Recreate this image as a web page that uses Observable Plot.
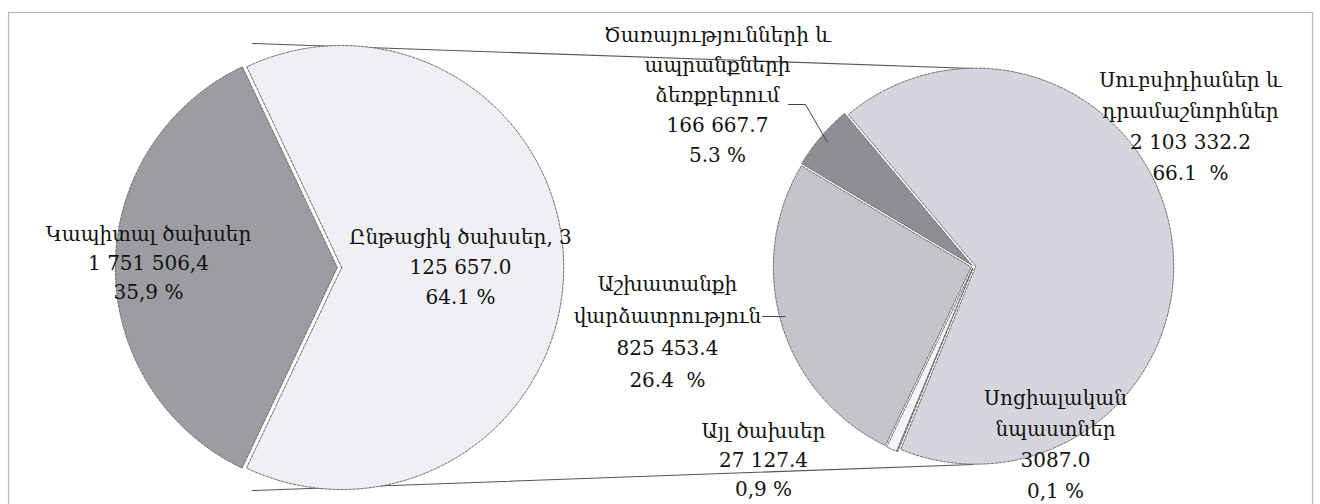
<!DOCTYPE html>
<html>
<head>
<meta charset="utf-8">
<script src="https://cdn.jsdelivr.net/npm/d3@7"></script>
<script src="https://cdn.jsdelivr.net/npm/@observablehq/plot@0.6"></script>
<style>
  html, body { margin: 0; padding: 0; background: #fff; overflow: hidden; }
  #chart { width: 1320px; height: 504px; overflow: hidden; }
</style>
</head>
<body>
<div id="chart"></div>
<script>
// ---------- DATA ----------
// Primary pie (clockwise from its start angle)
const leftCategories = ["Կապիտալ ծախսեր", "Ընթացիկ ծախսեր"];
const leftValues = [1751506.4, 3125657.0];
const leftLabelLines = [
  ["Կապիտալ ծախսեր", "1 751 506,4", "35,9 %"],
  ["Ընթացիկ ծախսեր, 3", "125 657.0", "64.1 %"]
];

// Secondary pie: breakdown of current expenditures (clockwise from its start angle)
const rightCategories = [
  "Սուբսիդիաներ և դրամաշնորհներ",
  "Սոցիալական նպաստներ",
  "Այլ ծախսեր",
  "Աշխատանքի վարձատրություն",
  "Ծառայությունների և ապրանքների ձեռքբերում"
];
const rightValues = [2103332.2, 3087.0, 27127.4, 825453.4, 166667.7];
const rightLabelLines = [
  ["Սուբսիդիաներ և", "դրամաշնորհներ", "2 103 332.2", "66.1  %"],
  ["Սոցիալական", "նպաստներ", "3087.0", "0,1 %"],
  ["Այլ ծախսեր", "27 127.4", "0,9 %"],
  ["Աշխատանքի", "վարձատրություն", "825 453.4", "26.4  %"],
  ["Ծառայությունների և", "ապրանքների", "ձեռքբերում", "166 667.7", "5.3 %"]
];

// ---------- STYLE / LAYOUT ----------
const leftColors = ["#9c9ca1", "#efeff4"];
const rightColors = ["#d6d5de", "#d0d0d8", "#f4f4f8", "#c4c4cb", "#8e8e93"];
const L = {cx: 339, cy: 267, r: 222, start: 205.4};   // degrees, clockwise from top
const R = {cx: 973, cy: 266, r: 198, start: 320};
const explode = 2.2;
const leftLabelPos = [
  {x: 148, y: 234, dy: 29},
  {x: 460, y: 237, dy: 30}
];
const rightLabelPos = [
  {x: 1190, y: 80, dy: 31},
  {x: 1055, y: 398, dy: 31},
  {x: 763, y: 431, dy: 29},
  {x: 667, y: 284, dy: 32},
  {x: 717, y: 35, dy: 30}
];

// ---------- GEOMETRY FROM DATA ----------
const rad = d => d * Math.PI / 180;
function pieArcs(values, start) {
  return d3.pie().sort(null).startAngle(rad(start)).endAngle(rad(start) + 2 * Math.PI)(values);
}
function polar(cx, cy, r, a) { return [cx + r * Math.sin(a), cy - r * Math.cos(a)]; }
function toXY(p) { return {px: p[0], py: p[1]}; }

function slicePolys(arcs, P, names, colors, key) {
  const rows = [];
  arcs.forEach((a, i) => {
    const mid = (a.startAngle + a.endAngle) / 2;
    const [ox, oy] = polar(0, 0, explode, mid);
    const cx = P.cx + ox, cy = P.cy + oy;
    const row = (x, y) => ({slice: key + i, name: names[i], color: colors[i], px: x, py: y});
    rows.push(row(cx, cy));
    const n = Math.max(2, Math.ceil((a.endAngle - a.startAngle) / rad(0.5)));
    for (let k = 0; k <= n; k++) {
      const t = a.startAngle + (a.endAngle - a.startAngle) * k / n;
      const [x, y] = polar(cx, cy, P.r, t);
      rows.push(row(x, y));
    }
    rows.push(row(cx, cy));
  });
  return rows;
}

const leftArcs = pieArcs(leftValues, L.start);
const rightArcs = pieArcs(rightValues, R.start);
const slices = [
  ...slicePolys(leftArcs, L, leftCategories, leftColors, "L"),
  ...slicePolys(rightArcs, R, rightCategories, rightColors, "R")
];

// connector lines: from the broken-out slice's edges to the top and bottom of the secondary pie
const cur = leftArcs[1];
const topTip = polar(L.cx, L.cy, L.r, cur.startAngle);
const botTip = polar(L.cx, L.cy, L.r, cur.endAngle);
const connectors = [
  {id: "top", px: topTip[0] + 8, py: L.cy - L.r - 2},
  {id: "top", ...toXY(polar(R.cx, R.cy, R.r, 0))},
  {id: "bot", px: botTip[0] + 8, py: L.cy + L.r + 1},
  {id: "bot", ...toXY(polar(R.cx, R.cy, R.r, Math.PI))}
];

// leader lines
const svcArc = rightArcs[4];
const svcPt = polar(R.cx, R.cy, R.r - 6, (svcArc.startAngle + svcArc.endAngle) / 2);
const labY = 316;
const labX = R.cx - Math.sqrt(R.r * R.r - (labY - R.cy) ** 2) + 3;
const leaders = [
  {id: "svc", px: 788, py: 104}, {id: "svc", px: 805, py: 104}, {id: "svc", ...toXY(svcPt)},
  {id: "lab", px: 762, py: labY}, {id: "lab", px: labX, py: labY}
];

// label rows
const labelRows = [];
leftLabelLines.forEach((lines, i) => lines.forEach((t, j) =>
  labelRows.push({text: t, px: leftLabelPos[i].x, py: leftLabelPos[i].y + j * leftLabelPos[i].dy})));
rightLabelLines.forEach((lines, i) => lines.forEach((t, j) =>
  labelRows.push({text: t, px: rightLabelPos[i].x, py: rightLabelPos[i].y + j * rightLabelPos[i].dy})));

const chart = Plot.plot({
  width: 1320,
  height: 512,
  marginTop: 12, marginLeft: 8, marginRight: 8, marginBottom: 0,
  x: {domain: [0, 1320], range: [0, 1320], axis: null},
  y: {domain: [0, 504], range: [0, 504], axis: null},
  color: {type: "identity"},
  style: {fontFamily: "DejaVu Serif", background: "#fff"},
  marks: [
    Plot.frame({stroke: "#b8b8b8", strokeWidth: 1.2}),
    Plot.line(connectors, {x: "px", y: "py", z: "id", stroke: "#555", strokeWidth: 1.1}),
    Plot.line(slices, {x: "px", y: "py", z: "slice", fill: "color", stroke: "#6a6a6a",
      strokeWidth: 1, strokeDasharray: "2.5,1.5", curve: "linear"}),
    Plot.line(leaders, {x: "px", y: "py", z: "id", stroke: "#444", strokeWidth: 1}),
    Plot.text(labelRows, {x: "px", y: "py", text: "text", fontSize: 20, fill: "#111",
      textAnchor: "middle", fontFamily: "DejaVu Serif"})
  ]
});
document.getElementById("chart").appendChild(chart);
</script>
</body>
</html>
